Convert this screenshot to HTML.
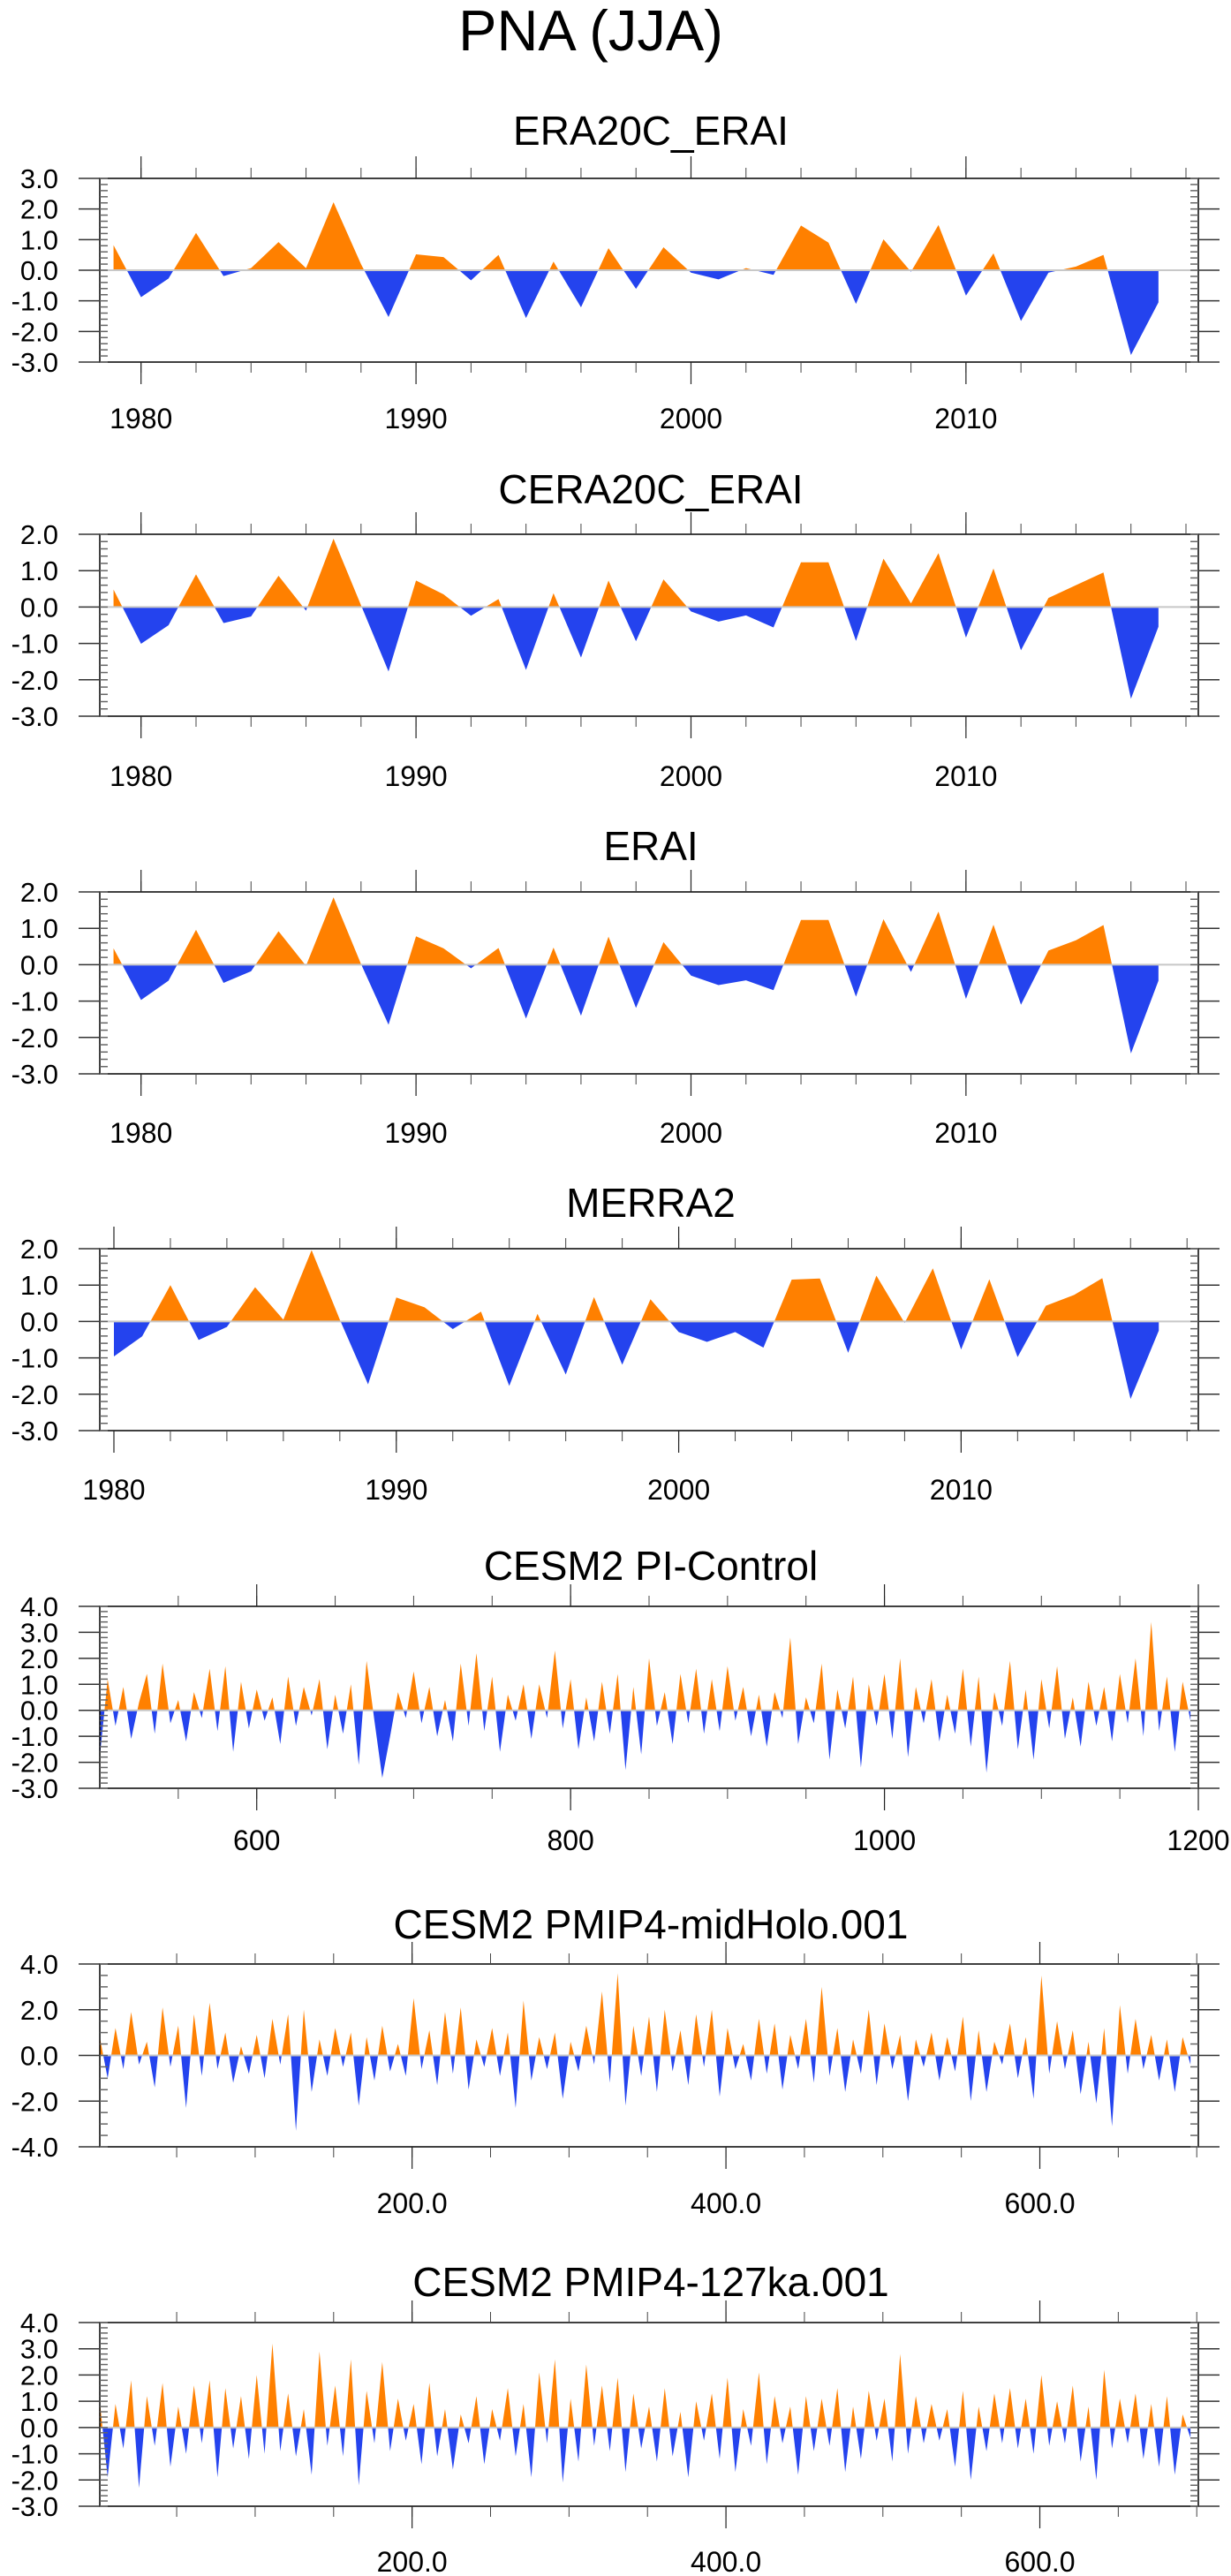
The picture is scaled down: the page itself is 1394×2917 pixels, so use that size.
<!DOCTYPE html>
<html><head><meta charset="utf-8"><style>
body{margin:0;background:#fff}
svg{display:block}
text{font-family:"Liberation Sans Narrow","Liberation Sans",sans-serif;fill:#000}
</style></head><body>
<svg id="chart" width="1394" height="2917" viewBox="0 0 1394 2917" xmlns="http://www.w3.org/2000/svg">
<text x="669" y="57" text-anchor="middle" font-size="65">PNA (JJA)</text>
</svg>
<script>
const yearsA = [1979,1980,1981,1982,1983,1984,1985,1986,1987,1988,1989,1990,1991,1992,1993,1994,1995,1996,1997,1998,1999,2000,2001,2002,2003,2004,2005,2006,2007,2008,2009,2010,2011,2012,2013,2014,2015,2016,2017];
const era20cErai = [0.82,-0.88,-0.27,1.22,-0.19,0.07,0.92,0.07,2.22,0.2,-1.53,0.52,0.43,-0.33,0.5,-1.56,0.28,-1.21,0.72,-0.61,0.75,-0.08,-0.3,0.07,-0.15,1.46,0.9,-1.1,1.01,-0.05,1.48,-0.83,0.55,-1.66,-0.08,0.12,0.5,-2.77,-1.05];
const cera20cErai = [0.48,-1.01,-0.5,0.9,-0.44,-0.26,0.86,-0.1,1.88,0.05,-1.77,0.73,0.35,-0.24,0.22,-1.73,0.38,-1.39,0.73,-0.94,0.76,-0.12,-0.4,-0.23,-0.56,1.23,1.23,-0.93,1.33,0.1,1.48,-0.84,1.06,-1.19,0.25,0.6,0.95,-2.52,-0.54];
const erai = [0.45,-0.97,-0.44,0.96,-0.5,-0.18,0.92,-0.03,1.85,0.02,-1.65,0.78,0.45,-0.1,0.46,-1.48,0.47,-1.4,0.77,-1.19,0.62,-0.3,-0.56,-0.43,-0.7,1.23,1.23,-0.88,1.25,-0.2,1.46,-0.94,1.1,-1.1,0.39,0.67,1.09,-2.44,-0.44];
const yearsM = [1980,1981,1982,1983,1984,1985,1986,1987,1988,1989,1990,1991,1992,1993,1994,1995,1996,1997,1998,1999,2000,2001,2002,2003,2004,2005,2006,2007,2008,2009,2010,2011,2012,2013,2014,2015,2016,2017];
const merra2 = [-0.96,-0.41,1.0,-0.51,-0.15,0.94,0.05,1.96,0.05,-1.73,0.66,0.39,-0.21,0.27,-1.77,0.21,-1.46,0.67,-1.19,0.61,-0.29,-0.56,-0.29,-0.72,1.15,1.18,-0.86,1.26,-0.04,1.46,-0.77,1.16,-0.98,0.43,0.73,1.19,-2.13,-0.25];
const piControl = [-1.8,1.2,-0.6,0.9,-1.1,0.3,1.4,-0.9,1.8,-0.5,0.4,-1.2,0.7,-0.3,1.6,-0.8,1.7,-1.6,1.1,-0.7,0.8,-0.4,0.5,-1.3,1.3,-0.6,0.9,-0.2,1.2,-1.5,0.6,-0.9,1.0,-2.1,1.9,-0.4,-2.6,-1.0,0.7,-0.3,1.5,-0.5,0.9,-1.0,0.4,-1.2,1.8,-0.6,2.2,-0.8,1.3,-1.6,0.6,-0.4,1.0,-1.1,1.0,-0.3,2.3,-0.7,1.2,-1.5,0.5,-1.2,1.1,-0.9,1.4,-2.3,0.9,-1.7,2.0,-0.6,0.7,-1.3,1.4,-0.5,1.6,-0.9,1.2,-0.8,1.7,-0.4,0.9,-1.0,0.6,-1.4,0.7,-0.3,2.8,-1.3,0.5,-0.5,1.8,-1.9,0.8,-0.7,1.3,-2.2,1.0,-0.6,1.4,-1.1,2.0,-1.8,0.9,-0.5,1.2,-1.2,0.6,-0.9,1.6,-1.4,1.3,-2.4,0.7,-0.6,1.9,-1.5,0.8,-1.9,1.2,-0.7,1.7,-1.1,0.5,-1.4,1.1,-0.6,0.9,-1.2,1.4,-0.5,2.0,-1.0,3.4,-0.8,1.3,-1.6,1.1,-0.4];
const midHolo = [0.8,-1.0,1.2,-0.6,1.9,-0.4,0.6,-1.4,2.1,-0.5,1.3,-2.3,1.8,-0.9,2.3,-0.6,1.0,-1.2,0.4,-0.8,0.9,-1.0,1.6,-0.4,1.8,-3.3,2.0,-1.6,0.7,-0.9,1.2,-0.5,1.0,-2.2,0.8,-1.1,1.3,-0.7,0.5,-0.9,2.5,-0.6,1.1,-1.3,1.9,-0.8,2.1,-1.5,0.7,-0.5,1.2,-0.9,1.0,-2.3,2.4,-1.1,0.8,-0.6,1.0,-1.9,0.6,-0.7,1.3,-0.4,2.8,-1.2,3.6,-2.2,1.3,-0.9,1.7,-1.6,2.0,-0.7,1.1,-1.3,1.8,-0.5,2.0,-1.8,1.2,-0.6,0.5,-1.1,1.6,-0.8,1.4,-1.5,0.9,-0.6,1.6,-1.2,3.0,-0.9,1.2,-1.6,0.7,-0.8,2.0,-1.3,1.4,-0.6,0.9,-2.0,0.7,-0.5,1.0,-1.1,0.8,-0.7,1.7,-2.0,1.1,-1.6,0.6,-0.4,1.4,-1.0,0.8,-1.9,3.5,-0.8,1.5,-0.6,1.1,-1.7,0.6,-2.1,1.2,-3.1,2.2,-0.8,1.6,-0.6,0.9,-1.1,0.7,-1.6,0.8,-0.4];
const ka127 = [1.0,-1.9,0.9,-0.8,1.8,-2.3,1.2,-0.7,1.7,-1.5,0.8,-1.0,1.6,-0.6,1.8,-1.9,1.5,-0.8,1.2,-1.2,2.0,-1.0,3.2,-0.9,1.3,-1.1,0.7,-1.8,2.9,-0.7,1.6,-1.1,2.6,-2.2,1.4,-0.6,2.5,-0.9,1.1,-0.5,0.9,-1.4,1.7,-1.1,0.7,-1.6,0.5,-0.6,1.2,-1.4,0.7,-0.5,1.5,-1.1,0.9,-1.9,2.1,-0.6,2.6,-2.1,1.1,-1.3,2.4,-0.7,1.6,-0.9,1.9,-1.7,1.3,-0.8,0.8,-1.3,1.5,-1.1,0.6,-1.9,1.0,-0.5,1.3,-1.2,1.9,-1.7,0.7,-0.7,2.1,-1.4,1.2,-0.6,0.8,-1.8,1.2,-0.9,1.1,-0.7,1.5,-1.7,0.8,-1.2,1.4,-0.5,1.1,-1.3,2.8,-1.0,1.2,-0.6,0.9,-0.5,0.7,-1.5,1.4,-2.0,0.8,-0.9,1.3,-0.6,1.5,-0.8,1.1,-1.0,2.0,-0.7,1.0,-0.6,1.6,-1.3,0.8,-2.0,2.2,-0.8,1.1,-0.6,1.3,-1.2,0.9,-1.5,1.2,-1.8,0.5,-0.4];
const longStep = 5;

const svg = document.getElementById('chart');
const NS = 'http://www.w3.org/2000/svg';
function mk(tag, attrs){const e=document.createElementNS(NS,tag);for(const k in attrs)e.setAttribute(k,attrs[k]);svg.appendChild(e);return e;}

const X0=113, X1=1357;
function panel(p){
  const sx=v=>X0+(v-p.xmin)/(p.xmax-p.xmin)*(X1-X0);
  const sy=v=>p.bot-(v-p.ymin)/(p.ymax-p.ymin)*(p.bot-p.top);
  const t=mk('text',{x:737,y:p.ttl+16,'text-anchor':'middle','font-size':46});
  t.textContent=p.title;
  
  
  const xs=p.x, ys=p.y, y0=sy(0);
  let d='M'+sx(xs[0])+','+y0;
  for(let i=0;i<xs.length;i++) d+=' L'+sx(xs[i]).toFixed(2)+','+sy(ys[i]).toFixed(2);
  d+=' L'+sx(xs[xs.length-1])+','+y0+' Z';
  const cid=p.name+'-clip';
  const defs=mk('defs',{});
  const cp=document.createElementNS(NS,'clipPath');cp.setAttribute('id',cid+'p');
  const r1=document.createElementNS(NS,'rect');r1.setAttribute('x',X0);r1.setAttribute('y',p.top);r1.setAttribute('width',X1-X0);r1.setAttribute('height',y0-p.top);cp.appendChild(r1);defs.appendChild(cp);
  const cn=document.createElementNS(NS,'clipPath');cn.setAttribute('id',cid+'n');
  const r2=document.createElementNS(NS,'rect');r2.setAttribute('x',X0);r2.setAttribute('y',y0);r2.setAttribute('width',X1-X0);r2.setAttribute('height',p.bot-y0);cn.appendChild(r2);defs.appendChild(cn);
  const pos=mk('path',{d:d,fill:'#ff8000','clip-path':'url(#'+cid+'p)'});
  
  
  const neg=mk('path',{d:d,fill:'#2443ee','clip-path':'url(#'+cid+'n)'});
  
  
  const zl=mk('line',{x1:X0,x2:X1,y1:y0,y2:y0,stroke:'#c8c8c8','stroke-width':2});
  
  
  const fr=mk('rect',{x:X0,y:p.top,width:X1-X0,height:p.bot-p.top,fill:'none',stroke:'#000','stroke-width':1.5});
  
  
  for(let v=p.ymin;v<=p.ymax+1e-6;v+=p.ymin2){
    const y=sy(v);
    mk('line',{x1:X0,x2:X0+9,y1:y,y2:y,stroke:'#666','stroke-width':1.5});
    mk('line',{x1:X1-9,x2:X1,y1:y,y2:y,stroke:'#666','stroke-width':1.5});
  }
  for(let v=p.ymin;v<=p.ymax+1e-6;v+=p.ystep){
    const y=sy(v);
    mk('line',{x1:X0-24,x2:X0,y1:y,y2:y,stroke:'#333','stroke-width':1.5});
    mk('line',{x1:X1,x2:X1+24,y1:y,y2:y,stroke:'#333','stroke-width':1.5});
    const lb=mk('text',{x:66,y:y+11,'text-anchor':'end','font-size':31});
    lb.textContent=v.toFixed(1);
    
    
  }
  for(let v=p.xminor0;v<=p.xmax+1e-6;v+=p.xminor){
    if(v<p.xmin-1e-6)continue;
    const x=sx(v);
    mk('line',{x1:x,x2:x,y1:p.top-12,y2:p.top,stroke:'#444','stroke-width':1});
    mk('line',{x1:x,x2:x,y1:p.bot,y2:p.bot+12,stroke:'#444','stroke-width':1});
  }
  p.xmaj.forEach(v=>{
    const x=sx(v);
    mk('line',{x1:x,x2:x,y1:p.top-25,y2:p.top,stroke:'#222','stroke-width':1.2});
    mk('line',{x1:x,x2:x,y1:p.bot,y2:p.bot+25,stroke:'#222','stroke-width':1.2});
    const lb=mk('text',{x:x,y:p.lab+12,'text-anchor':'middle','font-size':32});
    lb.textContent=p.fmt(v);
    
    
  });
}
const longX=(arr,start)=>arr.map((_,i)=>start+i*longStep);
const yr=v=>String(v), dec=v=>v.toFixed(1);
panel({name:'era20c-erai',title:'ERA20C_ERAI',top:202,bot:410,ttl:148,lab:473,ymin:-3,ymax:3,ystep:1,ymin2:0.2,xmin:1978.5,xmax:2018.45,xmaj:[1980,1990,2000,2010],xminor0:1980,xminor:2,fmt:yr,x:yearsA,y:era20cErai});
panel({name:'cera20c-erai',title:'CERA20C_ERAI',top:605,bot:811,ttl:554,lab:878,ymin:-3,ymax:2,ystep:1,ymin2:0.2,xmin:1978.5,xmax:2018.45,xmaj:[1980,1990,2000,2010],xminor0:1980,xminor:2,fmt:yr,x:yearsA,y:cera20cErai});
panel({name:'erai',title:'ERAI',top:1010,bot:1216,ttl:958,lab:1282,ymin:-3,ymax:2,ystep:1,ymin2:0.2,xmin:1978.5,xmax:2018.45,xmaj:[1980,1990,2000,2010],xminor0:1980,xminor:2,fmt:yr,x:yearsA,y:erai});
panel({name:'merra2',title:'MERRA2',top:1414,bot:1620,ttl:1362,lab:1686,ymin:-3,ymax:2,ystep:1,ymin2:0.2,xmin:1979.5,xmax:2018.4,xmaj:[1980,1990,2000,2010],xminor0:1980,xminor:2,fmt:yr,x:yearsM,y:merra2});
panel({name:'pi-control',title:'CESM2 PI-Control',top:1819,bot:2025,ttl:1773,lab:2083,ymin:-3,ymax:4,ystep:1,ymin2:0.2,xmin:500,xmax:1200,xmaj:[600,800,1000,1200],xminor0:550,xminor:50,fmt:yr,x:longX(piControl,500),y:piControl});
panel({name:'midholo',title:'CESM2 PMIP4-midHolo.001',top:2224,bot:2431,ttl:2179,lab:2494,ymin:-4,ymax:4,ystep:2,ymin2:0.5,xmin:1,xmax:701,xmaj:[200,400,600],xminor0:50,xminor:50,fmt:dec,x:longX(midHolo,1),y:midHolo});
panel({name:'127ka',title:'CESM2 PMIP4-127ka.001',top:2630,bot:2838,ttl:2584,lab:2900,ymin:-3,ymax:4,ystep:1,ymin2:0.2,xmin:1,xmax:701,xmaj:[200,400,600],xminor0:50,xminor:50,fmt:dec,x:longX(ka127,1),y:ka127});
</script>
</body></html>
